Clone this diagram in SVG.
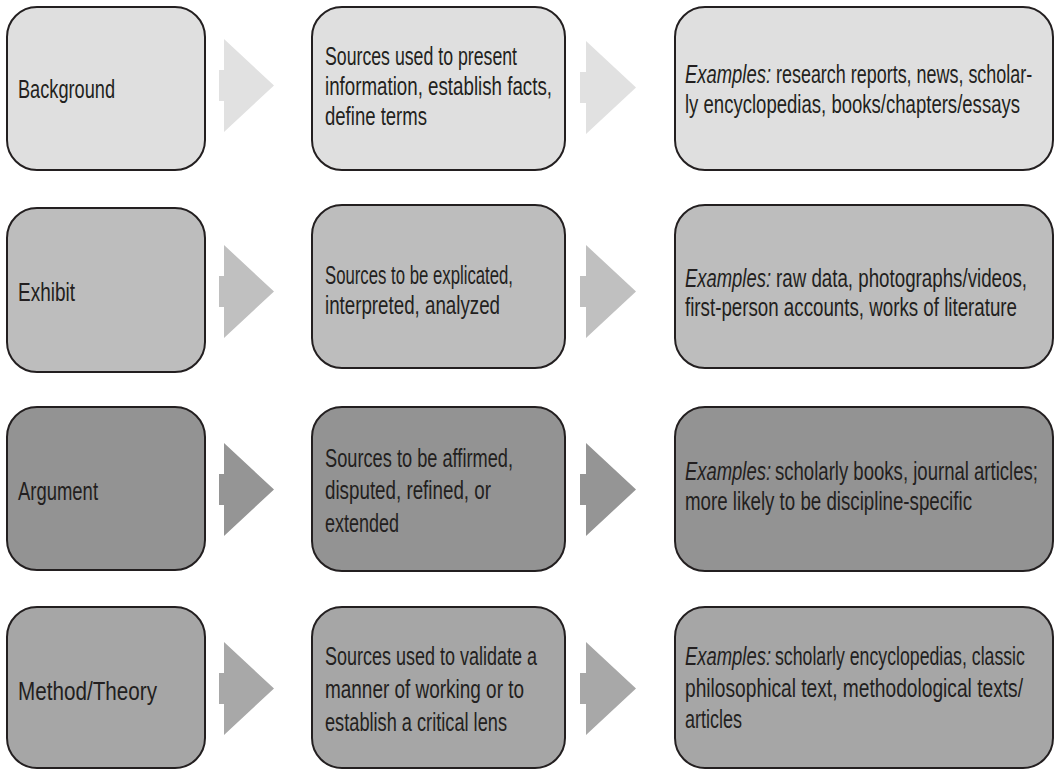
<svg xmlns="http://www.w3.org/2000/svg" width="1055" height="769" viewBox="0 0 1055 769">
  <style>
    .box { stroke: #231f20; stroke-width: 2; }
    .t { font-family: "Liberation Sans", Arial, sans-serif; font-size: 26px; fill: #231f20; }
    .em { font-style: italic; }
    .r1 { fill: #dfdfdf; }
    .r2 { fill: #bdbdbd; }
    .r3 { fill: #939393; }
    .r4 { fill: #a6a6a6; }
    .a1 { fill: #e1e1e1; }
    .a2 { fill: #c0c0c0; }
    .a3 { fill: #959595; }
    .a4 { fill: #a8a8a8; }
  </style>
  <rect width="1055" height="769" fill="#ffffff"/>

  <!-- Connectors: block chevrons between columns -->
  <g id="connectors">
    <path class="a1" d="M219 70 H224 V39 L274 85.5 L224 132 V101 H219 Z"/>
    <path class="a1" d="M580 72 H586 V41 L636 87.5 L586 134 V103 H580 Z"/>
    <path class="a2" d="M219 276 H224 V245 L274 291.5 L224 338 V307 H219 Z"/>
    <path class="a2" d="M580 276 H586 V245 L636 291.5 L586 338 V307 H580 Z"/>
    <path class="a3" d="M219 474 H224 V443 L274 489.5 L224 536 V505 H219 Z"/>
    <path class="a3" d="M580 474 H586 V443 L636 489.5 L586 536 V505 H580 Z"/>
    <path class="a4" d="M219 673 H224 V642 L274 688.5 L224 735 V704 H219 Z"/>
    <path class="a4" d="M580 673 H586 V642 L636 688.5 L586 735 V704 H580 Z"/>
  </g>

  <!-- Row 1: Background -->
  <g id="background">
    <rect class="box r1" x="7" y="7" width="198" height="163" rx="30"/>
    <text class="t" transform="translate(18 98) scale(0.7 1)" textLength="138.6" lengthAdjust="spacingAndGlyphs">Background</text>
  </g>
  <g id="background-use">
    <rect class="box r1" x="312" y="7" width="253" height="163" rx="30"/>
    <text class="t" transform="translate(325 65) scale(0.7 1)" textLength="274.3" lengthAdjust="spacingAndGlyphs">Sources used to present</text>
    <text class="t" transform="translate(325 95) scale(0.7 1)" textLength="324.3" lengthAdjust="spacingAndGlyphs">information, establish facts,</text>
    <text class="t" transform="translate(325 125) scale(0.7 1)" textLength="145.7" lengthAdjust="spacingAndGlyphs">define terms</text>
  </g>
  <g id="background-examples">
    <rect class="box r1" x="675" y="7" width="378" height="163" rx="30"/>
    <text class="t em" transform="translate(685 83) scale(0.7 1)" textLength="122.9" lengthAdjust="spacingAndGlyphs">Examples:</text>
    <text class="t" transform="translate(776 83) scale(0.7 1)" textLength="366" lengthAdjust="spacingAndGlyphs">research reports, news, scholar-</text>
    <text class="t" transform="translate(685 113) scale(0.7 1)" textLength="478.6" lengthAdjust="spacingAndGlyphs">ly encyclopedias, books/chapters/essays</text>
  </g>

  <!-- Row 2: Exhibit -->
  <g id="exhibit">
    <rect class="box r2" x="7" y="208" width="198" height="164" rx="30"/>
    <text class="t" transform="translate(18 301) scale(0.7 1)" textLength="81.4" lengthAdjust="spacingAndGlyphs">Exhibit</text>
  </g>
  <g id="exhibit-use">
    <rect class="box r2" x="312" y="205" width="253" height="163" rx="30"/>
    <text class="t" transform="translate(325 284) scale(0.7 1)" textLength="268.6" lengthAdjust="spacingAndGlyphs">Sources to be explicated,</text>
    <text class="t" transform="translate(325 314) scale(0.7 1)" textLength="250" lengthAdjust="spacingAndGlyphs">interpreted, analyzed</text>
  </g>
  <g id="exhibit-examples">
    <rect class="box r2" x="675" y="205" width="378" height="163" rx="30"/>
    <text class="t em" transform="translate(685 287) scale(0.7 1)" textLength="122.9" lengthAdjust="spacingAndGlyphs">Examples:</text>
    <text class="t" transform="translate(776 287) scale(0.7 1)" textLength="358.6" lengthAdjust="spacingAndGlyphs">raw data, photographs/videos,</text>
    <text class="t" transform="translate(685 316) scale(0.7 1)" textLength="474.3" lengthAdjust="spacingAndGlyphs">first-person accounts, works of literature</text>
  </g>

  <!-- Row 3: Argument -->
  <g id="argument">
    <rect class="box r3" x="7" y="407" width="198" height="163" rx="30"/>
    <text class="t" transform="translate(18 500) scale(0.7 1)" textLength="114.3" lengthAdjust="spacingAndGlyphs">Argument</text>
  </g>
  <g id="argument-use">
    <rect class="box r3" x="312" y="407" width="253" height="164" rx="30"/>
    <text class="t" transform="translate(325 467) scale(0.7 1)" textLength="268.6" lengthAdjust="spacingAndGlyphs">Sources to be affirmed,</text>
    <text class="t" transform="translate(325 499) scale(0.7 1)" textLength="237.1" lengthAdjust="spacingAndGlyphs">disputed, refined, or</text>
    <text class="t" transform="translate(325 532) scale(0.7 1)" textLength="105.7" lengthAdjust="spacingAndGlyphs">extended</text>
  </g>
  <g id="argument-examples">
    <rect class="box r3" x="675" y="407" width="378" height="164" rx="30"/>
    <text class="t em" transform="translate(685 480) scale(0.7 1)" textLength="122.9" lengthAdjust="spacingAndGlyphs">Examples:</text>
    <text class="t" transform="translate(775 480) scale(0.7 1)" textLength="375.7" lengthAdjust="spacingAndGlyphs">scholarly books, journal articles;</text>
    <text class="t" transform="translate(685 510) scale(0.7 1)" textLength="410" lengthAdjust="spacingAndGlyphs">more likely to be discipline-specific</text>
  </g>

  <!-- Row 4: Method/Theory -->
  <g id="method-theory">
    <rect class="box r4" x="7" y="607" width="198" height="161" rx="30"/>
    <text class="t" transform="translate(18 700) scale(0.7 1)" textLength="198.6" lengthAdjust="spacingAndGlyphs">Method/Theory</text>
  </g>
  <g id="method-theory-use">
    <rect class="box r4" x="312" y="607" width="253" height="161" rx="30"/>
    <text class="t" transform="translate(325 665) scale(0.7 1)" textLength="302.9" lengthAdjust="spacingAndGlyphs">Sources used to validate a</text>
    <text class="t" transform="translate(325 698) scale(0.7 1)" textLength="284.3" lengthAdjust="spacingAndGlyphs">manner of working or to</text>
    <text class="t" transform="translate(325 731) scale(0.7 1)" textLength="260" lengthAdjust="spacingAndGlyphs">establish a critical lens</text>
  </g>
  <g id="method-theory-examples">
    <rect class="box r4" x="675" y="607" width="378" height="161" rx="30"/>
    <text class="t em" transform="translate(685 665) scale(0.7 1)" textLength="122.9" lengthAdjust="spacingAndGlyphs">Examples:</text>
    <text class="t" transform="translate(775 665) scale(0.7 1)" textLength="357" lengthAdjust="spacingAndGlyphs">scholarly encyclopedias, classic</text>
    <text class="t" transform="translate(685 697) scale(0.7 1)" textLength="482.9" lengthAdjust="spacingAndGlyphs">philosophical text, methodological texts/</text>
    <text class="t" transform="translate(685 728) scale(0.7 1)" textLength="81.4" lengthAdjust="spacingAndGlyphs">articles</text>
  </g>
</svg>
